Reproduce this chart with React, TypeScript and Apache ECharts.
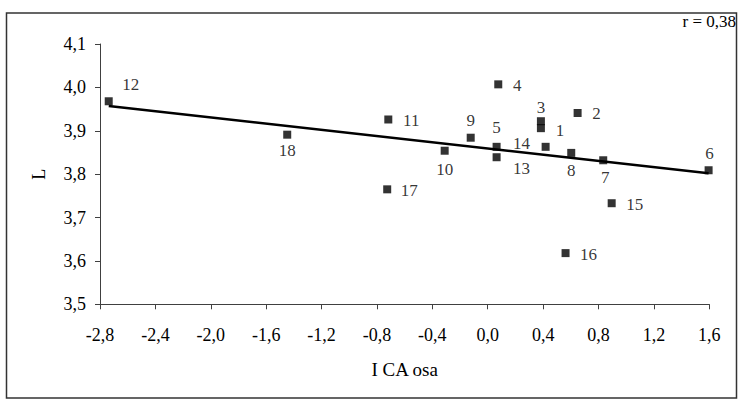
import React, { useEffect, useRef } from "react";
import * as echarts from "echarts";

const pointIds = ["1", "2", "3", "4", "5", "6", "7", "8", "9", "10", "11", "12", "13", "14", "15", "16", "17", "18"];
const icaValues = [0.384, 0.649, 0.384, 0.076, 0.064, 1.595, 0.834, 0.603, -0.123, -0.311, -0.718, -2.737, 0.064, 0.418, 0.895, 0.562, -0.726, -1.448];
const lValues = [3.906, 3.941, 3.922, 4.007, 3.863, 3.809, 3.832, 3.849, 3.884, 3.854, 3.926, 3.968, 3.839, 3.863, 3.733, 3.618, 3.765, 3.891];
const trendX = [-2.737, 1.595];
const trendY = [3.957, 3.802];
const xTicks = { min: -2.8, max: 1.6, interval: 0.4 };
const yTicks = { min: 3.5, max: 4.1, interval: 0.1 };
const rText = "r = 0,38";

// label placement per point (style only)
const labelPlacement: Record<string, [number, number]> = {
  "1": [19, 2],
  "2": [19, 1],
  "3": [0, -14],
  "4": [19, 1],
  "5": [0, -19],
  "6": [1, -17],
  "7": [2, 17],
  "8": [0, 18],
  "9": [0, -17],
  "10": [0, 19],
  "11": [23, 1],
  "12": [22, -17],
  "13": [25, 11],
  "14": [-24, -3],
  "15": [23, 1],
  "16": [23, 1],
  "17": [22, 1],
  "18": [0, 16],
};

const FONT = "Liberation Serif";

export default function App() {
  const ref = useRef<HTMLDivElement>(null);
  useEffect(() => {
    if (!ref.current) return;
    const chart = echarts.init(ref.current, undefined, { renderer: "svg" });
    const fmt = (v: number) => v.toFixed(1).replace(".", ",");
    const scatterData = pointIds.map((id, i) => ({
      value: [icaValues[i], lValues[i]],
      name: id,
      label: {
        show: true,
        formatter: id,
        position: "inside",
        offset: labelPlacement[id],
        fontFamily: FONT,
        fontSize: 17,
        color: "#000",
      },
    }));
    chart.setOption({
      animation: false,
      backgroundColor: "#fff",
      textStyle: { fontFamily: FONT },
      grid: { left: 100, right: 30.7, top: 44, bottom: 94.7 },
      xAxis: {
        type: "value",
        min: xTicks.min,
        max: xTicks.max,
        interval: xTicks.interval,
        name: "I CA osa",
        nameLocation: "middle",
        nameGap: 56,
        nameMoveOverlap: false,
        nameTextStyle: { fontFamily: FONT, fontSize: 19, color: "#000" },
        axisLine: { show: true, onZero: false, lineStyle: { color: "#404040", width: 1 } },
        axisTick: { show: true, inside: false, length: 5, lineStyle: { color: "#404040" } },
        axisLabel: { formatter: fmt, fontFamily: FONT, fontSize: 18, color: "#000", margin: 22 },
        splitLine: { show: false },
      },
      yAxis: {
        type: "value",
        min: yTicks.min,
        max: yTicks.max,
        interval: yTicks.interval,
        name: "L",
        nameLocation: "middle",
        nameGap: 52,
        nameRotate: 90,
        nameMoveOverlap: false,
        nameTextStyle: { fontFamily: FONT, fontSize: 18, color: "#000" },
        axisLine: { show: true, onZero: false, lineStyle: { color: "#404040", width: 1 } },
        axisTick: { show: true, inside: false, length: 5, lineStyle: { color: "#404040" } },
        axisLabel: { formatter: fmt, fontFamily: FONT, fontSize: 18, color: "#000", margin: 14 },
        splitLine: { show: false },
      },
      series: [
        {
          type: "line",
          data: trendX.map((x, i) => [x, trendY[i]]),
          symbol: "none",
          lineStyle: { color: "#000", width: 2.5 },
          silent: true,
          z: 2,
        },
        {
          type: "scatter",
          data: scatterData,
          symbol: "rect",
          symbolSize: 8,
          itemStyle: { color: "#000" },
          z: 3,
        },
      ],
      graphic: [
        {
          type: "rect",
          shape: { x: 6.5, y: 13, width: 730, height: 385 },
          style: { fill: "none", stroke: "#333", lineWidth: 1.5 },
          silent: true,
        },
        {
          type: "text",
          x: 736,
          y: 21,
          style: {
            text: rText,
            fontFamily: FONT,
            fontSize: 17,
            fill: "#000",
            align: "right",
            verticalAlign: "middle",
          },
        },
      ],
    });
    return () => chart.dispose();
  }, []);
  return (
    <div
      ref={ref}
      style={{ position: "fixed", left: 0, top: 0, width: 740, height: 399 }}
    />
  );
}
